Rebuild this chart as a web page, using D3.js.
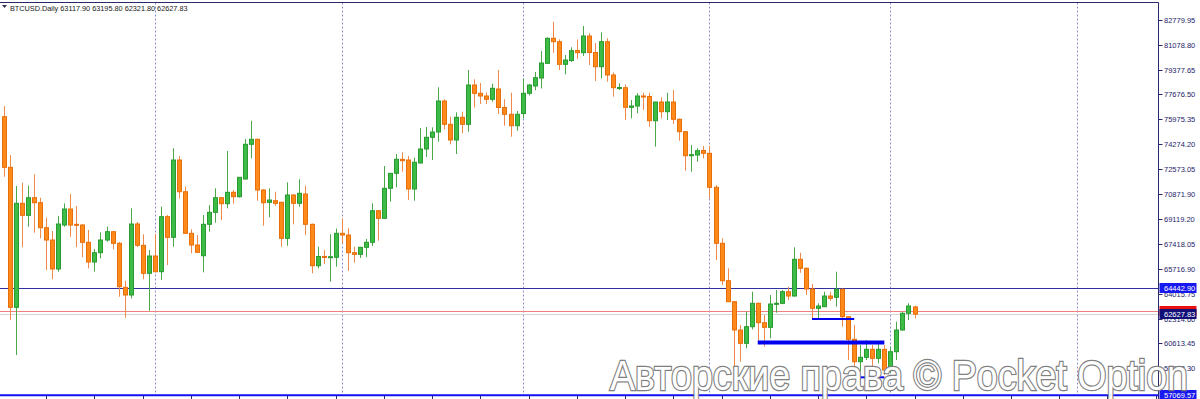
<!DOCTYPE html>
<html>
<head>
<meta charset="utf-8">
<script src="https://cdn.jsdelivr.net/npm/d3@7"></script>
<style>
  body { margin: 0; background: #fff; }
  svg { display: block; font-family: "Liberation Sans", Arial, sans-serif; }
</style>
</head>
<body>
<div id="chart"></div>
<script>
// Daily BTCUSD candles, oldest first
const opens = [76153,72685,63091,70218,69396,70602,70260,68546,67703,65716,
  68731,69828,68779,68731,67546,66196,66833,67703,68272,67477,
  64462,63934,68800,67340,65421,66607,65531,69300,67888,73186,
  71013,68162,67361,66627,68779,69602,70602,70191,70972,70671,
  71884,74262,74604,71130,70287,70397,70287,67820,70787,70218,
  70856,68779,65942,66576,66518,66518,68162,68046,66833,66723,
  67203,67546,69711,69190,71246,72274,73234,73186,71198,72980,
  73940,74741,75105,77229,75632,74556,76112,75632,78326,77757,
  77572,77346,78051,76784,76318,75536,76372,77757,78257,78805,
  79813,81526,81293,79744,80005,80690,80539,81683,80553,79580,
  81293,79011,78120,78140,76797,76886,77572,77537,75879,77160,
  76496,77160,75975,75125,73508,73528,73837,73645,71315,67477,
  64914,63475,61536,60624,61762,63365,62036,61721,63317,63365,
  64160,63866,66381,65764,64345,63023,63132,63866,63777,64325,
  62447,60898,59363,59665,60213,59596,60213,58794,60049,61536,
  62680,63117.90];

const highs = [76886,73528,71404,71630,71425,72206,70602,69232,68320,69348,
  70218,70856,70033,68800,68389,67087,68231,68615,68320,67566,
  64914,69876,68937,68094,67018,68115,69985,69417,73988,73460,
  71356,68437,68046,69417,70102,71246,70650,73803,71130,72021,
  74625,75879,74659,71199,71246,71013,70342,71658,70856,71863,
  71425,68834,67244,67018,68094,68491,69190,68505,67244,67203,
  67772,70218,69759,72775,72295,73597,73713,73460,73343,75379,
  75447,75427,78168,77346,76153,76455,76496,79353,78716,78463,
  77812,78415,79353,77346,77798,76544,78785,78394,79216,80656,
  81594,82663,81457,80381,80909,81444,82369,81869,81204,81937,
  81526,79196,78442,78373,77298,77757,77798,77798,77160,77483,
  77798,77983,76030,75173,74214,73988,74145,74145,71473,67820,
  65764,63523,61878,62790,64160,63420,62564,63934,64277,64277,
  64503,67203,66833,65818,64688,63365,64160,64160,65531,64379,
  62495,61878,60508,60850,60508,60665,60508,60391,62104,62790,
  63365,63195.80];

const lows = [72041,62221,59822,67203,68615,68204,67820,65647,65010,65531,
  68615,67929,67203,66518,65764,65531,66449,67587,67066,63818,
  62379,63708,67224,65010,62858,65510,64962,65990,67244,70561,
  68115,66792,66812,65490,68272,68889,69074,69876,70191,70616,
  71850,73302,70397,68683,69259,70054,67244,67313,68779,69985,
  68046,65421,65764,66059,64846,65874,67477,65579,66148,66470,
  66518,67292,67655,69142,70328,71315,72384,70445,70397,72946,
  73391,73186,74440,75290,74262,73597,75016,75125,76784,77023,
  77023,77181,76338,75536,74783,75194,76030,77606,77962,78086,
  79765,80539,79353,79059,79902,80107,80313,79696,78600,78785,
  78551,77524,77983,75927,76043,76386,76612,75468,74097,76043,
  75927,75653,74508,72452,72384,73069,73302,70561,66333,64620,
  63454,59021,59363,60282,61584,60665,60391,60967,62721,63317,
  63591,63831,65462,63934,62337,62221,63111,63544,63132,61762,
  59480,58794,58678,59480,59021,59254,58452,58568,59480,61501,
  62221,62321.80];

const closes = [72685,63091,70218,69396,70602,70260,68546,67703,65716,68800,
  69828,68731,68711,67546,66196,66833,67703,68272,67477,64503,
  63934,68800,67340,65421,66607,65531,69300,67888,73186,71013,
  68162,67361,66860,68779,69602,70602,70191,70972,70671,72000,
  74262,74604,71130,70260,70445,70218,67820,70787,70218,70904,
  68779,65942,66576,66518,66559,68162,68046,66833,66723,67203,
  67546,69711,69190,71246,72274,73234,73138,71198,73028,73940,
  74741,75105,77229,75632,74556,76112,75632,78326,77757,77572,
  77346,78099,76784,76318,75536,76318,77757,78326,78826,79833,
  81526,81293,79744,80039,80676,80539,81683,80553,79580,81293,
  79011,78140,78154,76797,76886,77572,77537,75879,77160,76496,
  77160,75975,75125,73480,73549,73823,73645,71315,67477,64914,
  63475,61536,60624,61762,63365,62036,61721,63317,63365,64160,
  63866,66381,65764,64345,63023,63180,63866,63708,64325,62447,
  60898,59363,59665,60213,59596,60213,58794,60049,61536,62680,
  63180,62627.83];

// Price scale labels on the right
const priceTicks = ["82779.95","81078.80","79377.65","77676.50","75975.35","74274.20",
  "72573.05","70871.90","69119.20","67418.05","65716.90","64015.75","62314.60",
  "60613.45","58912.30"];

// Month separators (bar index)
const separatorBars = [25, 56, 86, 117, 147, 178];

// Horizontal lines
const levelLine = 64442.90;
const bottomLine = 57069.57;
const bidPrice = 62627.83;
const askPrice = 62854.81;

// Drawn segments [fromBar, toBar, price, width]
const segFrom = [134, 125, 142];
const segTo = [141, 146, 146];
const segPrice = [62289, 60679, 58294];
const segWidth = [2, 4, 2];

const title = "BTCUSD.Daily";
const watermark = "Авторские права © Pocket Option";

const W = 1200, H = 399;
const AXIS_X = 1158.5;
const TOP = 2.5, BOTTOM = 395.5;

const svg = d3.select("#chart").append("svg")
  .attr("width", W).attr("height", H);

const x = d3.scaleLinear().domain([0, opens.length - 1]).range([4, 914.5]);
const y = d3.scaleLinear().domain([58912.30, 82779.95]).range([368.3, 20]);

const px = (i) => Math.round(x(i)) + 0.5;

// separators
svg.append("g").selectAll("line")
  .data(separatorBars)
  .join("line")
  .attr("x1", (d) => px(d)).attr("x2", (d) => px(d))
  .attr("y1", TOP).attr("y2", BOTTOM)
  .attr("stroke", "#8c8cd0")
  .attr("stroke-width", 1)
  .attr("stroke-dasharray", "2,2");

// bid / ask / level lines
svg.append("line")
  .attr("x1", 0).attr("x2", AXIS_X)
  .attr("y1", Math.round(y(bidPrice)) + 0.5).attr("y2", Math.round(y(bidPrice)) + 0.5)
  .attr("stroke", "#d4d4d4");
svg.append("line")
  .attr("x1", 0).attr("x2", AXIS_X)
  .attr("y1", Math.round(y(askPrice)) + 0.5).attr("y2", Math.round(y(askPrice)) + 0.5)
  .attr("stroke", "#f08080");
svg.append("line")
  .attr("x1", 0).attr("x2", AXIS_X)
  .attr("y1", Math.round(y(levelLine)) + 0.5).attr("y2", Math.round(y(levelLine)) + 0.5)
  .attr("stroke", "#3030a0");

// candles
const bars = d3.range(opens.length).map((i) => ({
  i, o: opens[i], h: highs[i], l: lows[i], c: closes[i], up: closes[i] >= opens[i]
}));

const candle = svg.append("g").selectAll("g")
  .data(bars)
  .join("g");

candle.append("line")
  .attr("x1", (d) => px(d.i)).attr("x2", (d) => px(d.i))
  .attr("y1", (d) => y(d.h)).attr("y2", (d) => y(d.l))
  .attr("stroke", (d) => d.up ? "#4aa84a" : "#f08a4a")
  .attr("stroke-width", 1);

candle.append("rect")
  .attr("x", (d) => px(d.i) - 2)
  .attr("width", 4)
  .attr("y", (d) => y(Math.max(d.o, d.c)))
  .attr("height", (d) => Math.max(1, y(Math.min(d.o, d.c)) - y(Math.max(d.o, d.c))))
  .attr("fill", (d) => d.up ? "#3cbc46" : "#ff8a1c")
  .attr("stroke", (d) => d.up ? "#289a30" : "#e86e08")
  .attr("stroke-width", 1);

// user segments
svg.append("g").selectAll("line")
  .data(segPrice)
  .join("line")
  .attr("x1", (d, k) => x(segFrom[k])).attr("x2", (d, k) => x(segTo[k]))
  .attr("y1", (d) => y(d)).attr("y2", (d) => y(d))
  .attr("stroke", "#0000f0")
  .attr("stroke-width", (d, k) => segWidth[k]);

// bottom line + frame
svg.append("line")
  .attr("x1", 0).attr("x2", AXIS_X)
  .attr("y1", TOP).attr("y2", TOP)
  .attr("stroke", "#2a2a6a");
svg.append("line")
  .attr("x1", AXIS_X).attr("x2", AXIS_X)
  .attr("y1", TOP).attr("y2", H)
  .attr("stroke", "#2a2a6a");
svg.append("line")
  .attr("x1", 0).attr("x2", AXIS_X)
  .attr("y1", y(bottomLine)).attr("y2", y(bottomLine))
  .attr("stroke", "#1010f0")
  .attr("stroke-width", 2);

// time ticks at bottom (every 8 bars)
svg.append("g").selectAll("line")
  .data(d3.range(7, 200, 8).filter((i) => x(i) < AXIS_X))
  .join("line")
  .attr("x1", (d) => px(d)).attr("x2", (d) => px(d))
  .attr("y1", 396).attr("y2", H)
  .attr("stroke", "#2a2a6a");

// price axis
const axis = svg.append("g").selectAll("g")
  .data(priceTicks)
  .join("g")
  .attr("transform", (d) => `translate(${AXIS_X},${Math.round(y(+d)) + 0.5})`);
axis.append("line").attr("x1", 0).attr("x2", 4).attr("stroke", "#2a2a6a");
axis.append("text")
  .attr("x", 5.5).attr("dy", "0.35em")
  .attr("font-size", 7.5)
  .attr("fill", "#25256a")
  .text((d) => d);

// price boxes
function priceBox(value, bg, fg) {
  const g = svg.append("g")
    .attr("transform", `translate(${AXIS_X + 1},${Math.round(y(value))})`);
  g.append("rect")
    .attr("x", 0).attr("y", -5).attr("width", 37).attr("height", 10)
    .attr("fill", bg);
  g.append("text")
    .attr("x", 4.5).attr("dy", "0.35em")
    .attr("font-size", 7.5)
    .attr("fill", fg)
    .text(value.toFixed(2));
}
priceBox(askPrice, "#e81010", "#ffffff");
priceBox(levelLine, "#1818f0", "#ffffff");
priceBox(bidPrice, "#101078", "#ffffff");
priceBox(bottomLine, "#1818f0", "#ffffff");

// title
svg.append("path")
  .attr("d", "M2,5 L7,5 L4.5,8 Z")
  .attr("fill", "#303050");
svg.append("text")
  .attr("x", 10).attr("y", 10.5)
  .attr("font-size", 7.3)
  .attr("fill", "#202020")
  .text(`${title} ${opens[opens.length - 1].toFixed(2)} ${highs[highs.length - 1].toFixed(2)} ${lows[lows.length - 1].toFixed(2)} ${closes[closes.length - 1].toFixed(2)}`);

// watermark
svg.append("text")
  .attr("x", 610).attr("y", 390)
  .attr("font-size", 42)
  .attr("textLength", 578)
  .attr("lengthAdjust", "spacingAndGlyphs")
  .attr("fill", "#ffffff")
  .attr("stroke", "#7a7a7a")
  .attr("stroke-width", 2.5)
  .attr("paint-order", "stroke")
  .attr("opacity", 0.95)
  .text(watermark);
</script>
</body>
</html>
